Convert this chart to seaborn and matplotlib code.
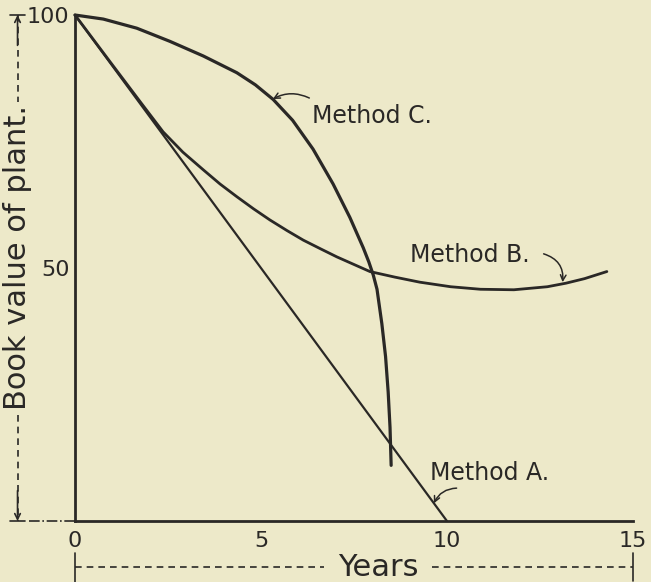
import pandas as pd
import matplotlib
matplotlib.use('Agg')
import matplotlib.pyplot as plt
import matplotlib.transforms as mtransforms
import seaborn as sns

# values
years_a = [0, 10]
value_a = [100, 0]

years_b = [0, 1, 1.8, 2.37, 2.9, 3.45, 3.9, 4.35, 4.8, 5.24, 5.7, 6.14, 6.6, 7.04, 7.5, 7.93,
           8.6, 9.27, 10.1, 10.9, 11.8, 12.7, 13.2, 13.7, 14.3]
value_b = [100, 90.2, 82.4, 76.9, 72.9, 69.4, 66.6, 64.1, 61.7, 59.5, 57.4, 55.5, 53.8, 52.2, 50.7, 49.3,
           48.2, 47.2, 46.3, 45.8, 45.7, 46.3, 47.0, 47.9, 49.3]

years_c = [0, 0.76, 1.66, 2.55, 3.45, 4.35, 4.85, 5.33, 5.85, 6.4, 6.94, 7.39, 7.75, 7.9, 8.02,
           8.12, 8.25, 8.35, 8.42, 8.47, 8.5]
value_c = [100, 99.2, 97.4, 94.8, 91.9, 88.6, 86.2, 83.3, 79.2, 73.5, 66.6, 60.0, 54.0, 51.2, 48.6,
           45.8, 39.0, 32.5, 25.5, 18.5, 11.0]

x_ticks = [0, 5, 10, 15]
y_ticks = [50, 100]
method_labels = ['Method A.', 'Method B.', 'Method C.']

paper = '#EDE9C9'
ink = '#2a2826'

sns.set_style('white')
plt.rcParams['font.family'] = ['DejaVu Sans']

fig = plt.figure(figsize=(6.51, 5.82), dpi=100, facecolor=paper)
ax = fig.add_axes([0.1152, 0.1048, 0.857, 0.8694])
ax.set_facecolor(paper)

df_a = pd.DataFrame({'year': years_a, 'value': value_a})
df_b = pd.DataFrame({'year': years_b, 'value': value_b})
df_c = pd.DataFrame({'year': years_c, 'value': value_c})

sns.lineplot(data=df_a, x='year', y='value', ax=ax, color=ink, lw=1.6, sort=False, estimator=None)
sns.lineplot(data=df_b, x='year', y='value', ax=ax, color=ink, lw=2.0, sort=False, estimator=None)
sns.lineplot(data=df_c, x='year', y='value', ax=ax, color=ink, lw=2.3, sort=False, estimator=None)
for ln in ax.lines:
    ln.set_clip_on(False)
    ln.set_solid_capstyle('round')
    ln.set_solid_joinstyle('round')

ax.set_xlim(0, 15)
ax.set_ylim(0, 100)
ax.set_xticks(x_ticks)
ax.set_yticks(y_ticks)
ax.set_xlabel('')
ax.set_ylabel('')
ax.tick_params(axis='x', direction='inout', length=10, width=1.4, colors=ink, labelsize=16, pad=2)
ax.tick_params(axis='y', direction='inout', length=8, width=1.4, colors=ink, labelsize=16, pad=0)
for s in ['top', 'right']:
    ax.spines[s].set_visible(False)
for s in ['left', 'bottom']:
    ax.spines[s].set_color(ink)
    ax.spines[s].set_linewidth(2)

# method labels with little curved arrows
ax.text(6.37, 80.0, method_labels[2], fontsize=17, color=ink, va='center', ha='left')
ax.annotate('', xy=(5.32, 83.4), xytext=(6.3, 83.6),
            arrowprops=dict(arrowstyle='->', color=ink, lw=1.1, connectionstyle='arc3,rad=0.25',
                            shrinkA=0, shrinkB=0))
ax.text(9.0, 52.5, method_labels[1], fontsize=17, color=ink, va='center', ha='left')
ax.annotate('', xy=(13.11, 47.2), xytext=(12.6, 52.8),
            arrowprops=dict(arrowstyle='->', color=ink, lw=1.1, connectionstyle='arc3,rad=-0.4',
                            shrinkA=0, shrinkB=0))
ax.text(9.54, 9.5, method_labels[0], fontsize=17, color=ink, va='center', ha='left')
ax.annotate('', xy=(9.65, 3.5), xytext=(10.26, 6.5),
            arrowprops=dict(arrowstyle='->', color=ink, lw=1.1, connectionstyle='arc3,rad=0.3',
                            shrinkA=0, shrinkB=0))

dash = (0, (4, 3))

# y label with dashed arrows
ytr = mtransforms.blended_transform_factory(ax.transAxes, ax.transData)
xa = -0.103
ax.text(xa, 52, 'Book value of plant.', rotation=90, fontsize=22, color=ink,
        ha='center', va='center', transform=ytr)
ax.plot([xa, xa], [100, 82.8], transform=ytr, ls=dash, lw=1.2, color=ink, clip_on=False)
ax.plot([xa, xa], [21, 0], transform=ytr, ls=dash, lw=1.2, color=ink, clip_on=False)
ax.annotate('', xy=(xa, 100), xytext=(xa, 94), xycoords=ytr,
            arrowprops=dict(arrowstyle='->', color=ink, lw=1.2, shrinkA=0, shrinkB=0))
ax.annotate('', xy=(xa, 0), xytext=(xa, 6), xycoords=ytr,
            arrowprops=dict(arrowstyle='->', color=ink, lw=1.2, shrinkA=0, shrinkB=0))
ax.plot([xa - 0.014, xa + 0.014], [100, 100], transform=ytr, lw=1.2, color=ink, clip_on=False)
ax.plot([xa - 0.014, xa + 0.014], [0, 0], transform=ytr, lw=1.2, color=ink, clip_on=False)
ax.plot([xa + 0.02, 0], [0, 0], transform=ytr, ls='-.', lw=1.2, color=ink, clip_on=False)

# x label with dashed arrows
yy = -9.1
ax.text(8.15, yy, 'Years', fontsize=22, color=ink, ha='center', va='center')
ax.plot([0, 6.7], [yy, yy], ls=dash, lw=1.2, color=ink, clip_on=False)
ax.plot([9.6, 15], [yy, yy], ls=dash, lw=1.2, color=ink, clip_on=False)
ax.annotate('', xy=(0, yy), xytext=(0.6, yy),
            arrowprops=dict(arrowstyle='->', color=ink, lw=1.2, shrinkA=0, shrinkB=0))
ax.annotate('', xy=(15, yy), xytext=(14.4, yy),
            arrowprops=dict(arrowstyle='->', color=ink, lw=1.2, shrinkA=0, shrinkB=0))
ax.plot([0, 0], [-6.3, -12.2], lw=1.2, color=ink, clip_on=False)
ax.plot([15, 15], [-6.3, -11.8], lw=1.2, color=ink, clip_on=False)

fig.savefig('out.png', dpi=100, facecolor=paper)
